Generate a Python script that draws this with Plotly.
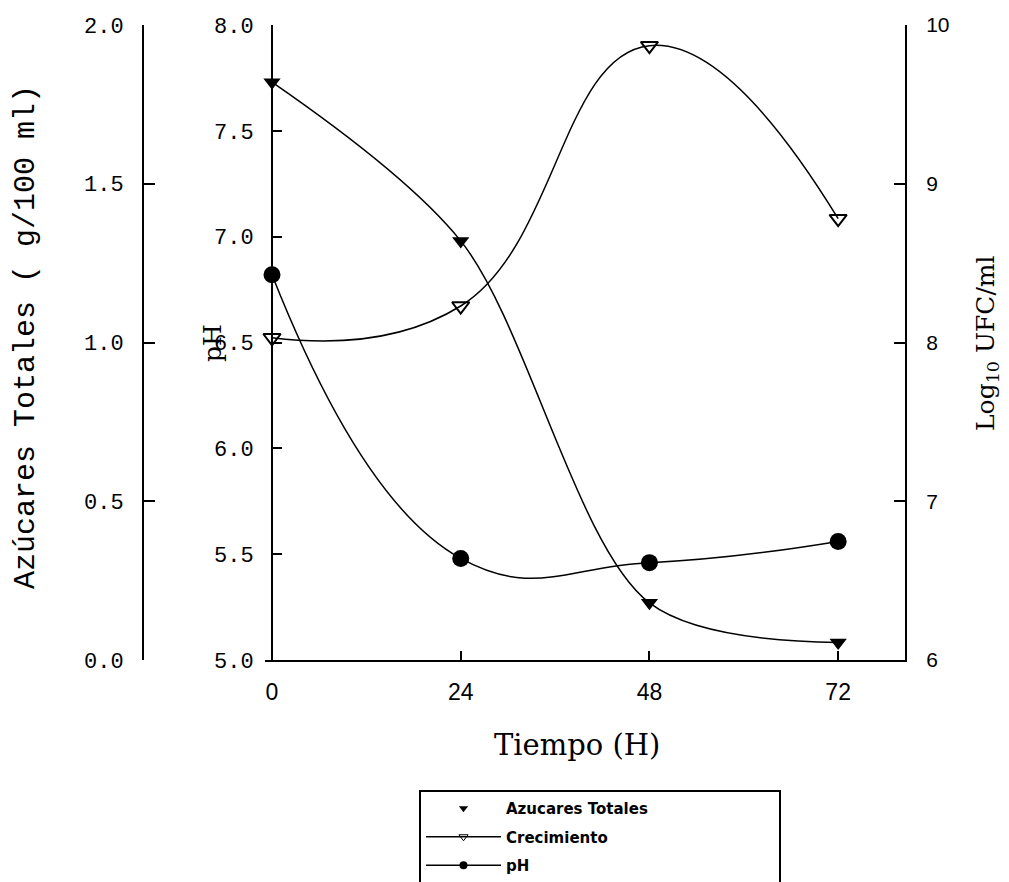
import plotly.graph_objects as go

# ---- data ----
tiempo = [0, 24, 48, 72]
azucares = [1.82, 1.32, 0.18, 0.055]      # g/100 ml
crecimiento = [8.03, 8.23, 9.87, 8.78]    # log10 UFC/ml
ph = [6.82, 5.48, 5.46, 5.56]

x_ticks = [0, 24, 48, 72]
az_ticks = [0.0, 0.5, 1.0, 1.5, 2.0]
ph_ticks = [5.0, 5.5, 6.0, 6.5, 7.0, 7.5, 8.0]
log_ticks = [6, 7, 8, 9, 10]

W, H = 1009, 882
OFF = 8  # page body margin of the browser
BLACK = "black"
MONO = "Liberation Mono, DejaVu Sans Mono, monospace"
SERIF = "DejaVu Serif, Liberation Serif, serif"
SANS_N = "Liberation Sans Narrow, Liberation Sans, Arial, sans-serif"

fig = go.Figure()

fig.add_trace(go.Scatter(
    x=tiempo, y=azucares, yaxis="y2", mode="lines+markers",
    line=dict(color=BLACK, width=1.5, shape="spline", smoothing=0.9),
    marker=dict(symbol="triangle-down", size=15, color=BLACK),
    cliponaxis=False, showlegend=False, name="Azucares Totales"))

fig.add_trace(go.Scatter(
    x=tiempo, y=crecimiento, yaxis="y3", mode="lines+markers",
    line=dict(color=BLACK, width=1.5, shape="spline", smoothing=1.3),
    marker=dict(symbol="triangle-down-open", size=15, color=BLACK, line=dict(width=2, color=BLACK)),
    cliponaxis=False, showlegend=False, name="Crecimiento"))

fig.add_trace(go.Scatter(
    x=tiempo, y=ph, yaxis="y", mode="lines+markers",
    line=dict(color=BLACK, width=1.5, shape="spline", smoothing=1.3),
    marker=dict(symbol="circle", size=17, color=BLACK),
    cliponaxis=False, showlegend=False, name="pH"))

# legend-only entries (matching the reference legend keys)
pad = "\u00a0" * 24
fig.add_trace(go.Scatter(x=[None], y=[None], mode="markers", name="Azucares Totales" + pad,
                         marker=dict(symbol="triangle-down", size=8, color=BLACK),
                         legendgroup="a"))
fig.add_trace(go.Scatter(x=[None], y=[None], mode="lines+markers", name="Crecimiento",
                         line=dict(color=BLACK, width=1.5),
                         marker=dict(symbol="triangle-down-open", size=8, color=BLACK),
                         legendgroup="b"))
fig.add_trace(go.Scatter(x=[None], y=[None], mode="lines+markers", name="pH",
                         line=dict(color=BLACK, width=1.5),
                         marker=dict(symbol="circle", size=8, color=BLACK),
                         legendgroup="c"))

x0_px, x1_px = 265, 905
y_top, y_bot = 25, 660

def px_x(p):
    return (p - OFF) / W

def px_y(p):
    return 1 - (p - OFF) / H

def title(text, x, y, size, family, angle=0):
    return dict(text=text, x=px_x(x), y=px_y(y), xref="paper", yref="paper",
                xanchor="center", yanchor="middle", textangle=angle, showarrow=False,
                font=dict(family=family, size=size, color=BLACK))

fig.update_layout(
    width=W, height=H,
    margin=dict(l=0, r=0, t=0, b=0, pad=0, autoexpand=False),
    paper_bgcolor="white", plot_bgcolor="white",
    xaxis=dict(
        domain=[px_x(x0_px), px_x(x1_px)], range=[-0.89, 80.5],
        tickvals=x_ticks, ticktext=[str(v) for v in x_ticks],
        ticks="inside", ticklen=9, tickwidth=1.5, tickcolor=BLACK,
        showline=True, linecolor=BLACK, linewidth=2,
        showgrid=False, zeroline=False, anchor="y",
        tickfont=dict(family=SANS_N, size=23, color=BLACK),
        ticklabelstandoff=10,
    ),
    yaxis=dict(
        domain=[px_y(y_bot), px_y(y_top)], range=[5.0, 8.0],
        tickvals=ph_ticks, ticktext=[f"{v:.1f}" for v in ph_ticks],
        ticks="inside", ticklen=9, tickwidth=1.5, tickcolor=BLACK,
        showline=True, linecolor=BLACK, linewidth=2,
        showgrid=False, zeroline=False,
        anchor="free", position=px_x(272), side="left",
        tickfont=dict(family=MONO, size=22, color=BLACK),
        ticklabelstandoff=13,
    ),
    yaxis2=dict(
        domain=[px_y(y_bot), px_y(y_top)], range=[0.0, 2.0],
        overlaying="y",
        tickvals=az_ticks, ticktext=[f"{v:.1f}" for v in az_ticks],
        ticks="inside", ticklen=11, tickwidth=1.5, tickcolor=BLACK,
        showline=True, linecolor=BLACK, linewidth=2,
        showgrid=False, zeroline=False,
        anchor="free", position=px_x(143), side="left",
        tickfont=dict(family=MONO, size=22, color=BLACK),
        ticklabelstandoff=14,
    ),
    yaxis3=dict(
        domain=[px_y(y_bot), px_y(y_top)], range=[6, 10],
        overlaying="y", side="right", anchor="x",
        tickvals=log_ticks, ticktext=[str(v) for v in log_ticks],
        ticks="inside", ticklen=11, tickwidth=1.5, tickcolor=BLACK,
        showline=True, linecolor=BLACK, linewidth=2,
        showgrid=False, zeroline=False,
        tickfont=dict(family="Liberation Sans, Arial, sans-serif", size=21, color=BLACK),
        ticklabelstandoff=15,
    ),
    legend=dict(
        x=px_x(419), y=px_y(790), xanchor="left", yanchor="top",
        bordercolor=BLACK, borderwidth=2, bgcolor="white",
        font=dict(family="DejaVu Sans, Arial, sans-serif", size=15, color=BLACK, weight="bold"),
        itemwidth=75, traceorder="grouped", tracegroupgap=6,
    ),
    annotations=[
        title("Azúcares Totales ( g/100 ml)", 26, 337, 30, MONO, -90),
        title("pH", 212, 343, 25, SERIF, -90),
        title("Log<sub>10</sub> UFC/ml", 987, 343, 25, SERIF, -90),
        title("Tiempo (H)", 577, 745, 29, SERIF),
    ],
)

fig.write_html("out.html")
